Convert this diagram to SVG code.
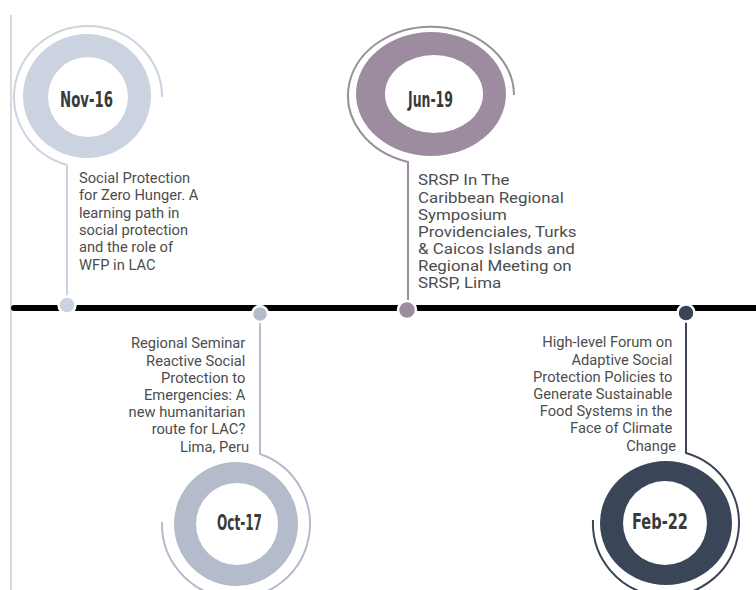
<svg xmlns="http://www.w3.org/2000/svg" width="756" height="590" viewBox="0 0 756 590">
  <style>
    .body { font-family: Roboto, "Liberation Sans", sans-serif; font-size: 14.7px; fill: #4d4d4d; }
    .date { font-family: "Liberation Sans Narrow", "DejaVu Sans Condensed", "Liberation Sans", sans-serif; font-weight: bold; font-size: 21px; fill: #3a3a3a; text-anchor: middle; }
    .end { text-anchor: end; }
    .arc { fill: none; stroke-width: 2; stroke-linejoin: round; }
    .dot { stroke: #ffffff; stroke-width: 2.5; }
  </style>

  <!-- left margin rule -->
  <line x1="11" y1="15" x2="11" y2="590" stroke="#d9d9d9" stroke-width="2"/>

  <!-- connectors: main timeline and the stems/arcs leading to each event -->
  <g id="connectors">
    <line x1="14" y1="308" x2="760" y2="308" stroke="#000000" stroke-width="6" stroke-linecap="round"/>
    <path class="arc" stroke="#ccd3e0" d="M 162 97 A 74 71 0 1 0 67 165 L 67 300"/>
    <path class="arc" stroke="#b4bccb" d="M 260 310 L 260 454 A 74 74 0 1 1 162 522"/>
    <path class="arc" stroke="#9d8c9f" d="M 514 95 A 83 69 0 1 0 408 162 L 408 305"/>
    <path class="arc" stroke="#3a4558" d="M 686 310 L 686 453 A 73 73 0 1 1 593 520"/>
  </g>

  <!-- Nov-16 -->
  <g id="nov16">
    <ellipse cx="87" cy="96" rx="64" ry="62" fill="#ccd3e0"/>
    <ellipse cx="88" cy="97" rx="40" ry="40" fill="#ffffff"/>
    <text class="date" x="86.5" y="107" textLength="53" lengthAdjust="spacingAndGlyphs">Nov-16</text>
    <circle class="dot" cx="67" cy="305" r="8.5" fill="#ccd3e0"/>
    <text class="body">
      <tspan x="79" y="183">Social Protection</tspan>
      <tspan x="79" y="200.3">for Zero Hunger. A</tspan>
      <tspan x="79" y="217.6">learning path in</tspan>
      <tspan x="79" y="234.9">social protection</tspan>
      <tspan x="79" y="252.2">and the role of</tspan>
      <tspan x="79" y="269.5">WFP in LAC</tspan>
    </text>
  </g>

  <!-- Oct-17 -->
  <g id="oct17">
    <circle cx="236" cy="524" r="62" fill="#b4bccb"/>
    <circle cx="237" cy="524" r="41" fill="#ffffff"/>
    <text class="date" x="239.5" y="530" textLength="45" lengthAdjust="spacingAndGlyphs">Oct-17</text>
    <circle class="dot" cx="260" cy="314" r="8" fill="#b4bccb"/>
    <text class="body end">
      <tspan x="249" y="348.3">Regional Seminar</tspan>
      <tspan x="249" y="365.5">Reactive Social</tspan>
      <tspan x="249" y="382.7">Protection to</tspan>
      <tspan x="249" y="399.9">Emergencies: A</tspan>
      <tspan x="249" y="417.1">new humanitarian</tspan>
      <tspan x="249" y="434.3">route for LAC?</tspan>
      <tspan x="249" y="451.5">Lima, Peru</tspan>
    </text>
  </g>

  <!-- Jun-19 -->
  <g id="jun19">
    <ellipse cx="431" cy="94" rx="75" ry="62" fill="#9d8c9f"/>
    <ellipse cx="434" cy="94" rx="49" ry="39" fill="#ffffff"/>
    <text class="date" x="430.5" y="107" textLength="45" lengthAdjust="spacingAndGlyphs">Jun-19</text>
    <circle class="dot" cx="407" cy="310" r="9" fill="#9d8c9f"/>
    <text class="body" transform="translate(418 0) scale(1.15 1)">
      <tspan x="0" y="185.5">SRSP In The</tspan>
      <tspan x="0" y="202.6">Caribbean Regional</tspan>
      <tspan x="0" y="219.7">Symposium</tspan>
      <tspan x="0" y="236.8">Providenciales, Turks</tspan>
      <tspan x="0" y="253.9">&amp; Caicos Islands and</tspan>
      <tspan x="0" y="271">Regional Meeting on</tspan>
      <tspan x="0" y="288.1">SRSP, Lima</tspan>
    </text>
  </g>

  <!-- Feb-22 -->
  <g id="feb22">
    <ellipse cx="666" cy="523" rx="66" ry="62" fill="#3a4558"/>
    <circle cx="665" cy="523" r="42" fill="#ffffff"/>
    <text class="date" x="660" y="529" textLength="56" lengthAdjust="spacingAndGlyphs">Feb-22</text>
    <circle class="dot" cx="686" cy="313" r="8.5" fill="#3a4558"/>
    <text class="body end">
      <tspan x="676" y="347.3">High-level Forum on</tspan>
      <tspan x="676" y="364.5">Adaptive Social</tspan>
      <tspan x="676" y="381.7">Protection Policies to</tspan>
      <tspan x="676" y="398.9">Generate Sustainable</tspan>
      <tspan x="676" y="416.1">Food Systems in the</tspan>
      <tspan x="676" y="433.3">Face of Climate</tspan>
      <tspan x="676" y="450.5">Change</tspan>
    </text>
  </g>
</svg>
